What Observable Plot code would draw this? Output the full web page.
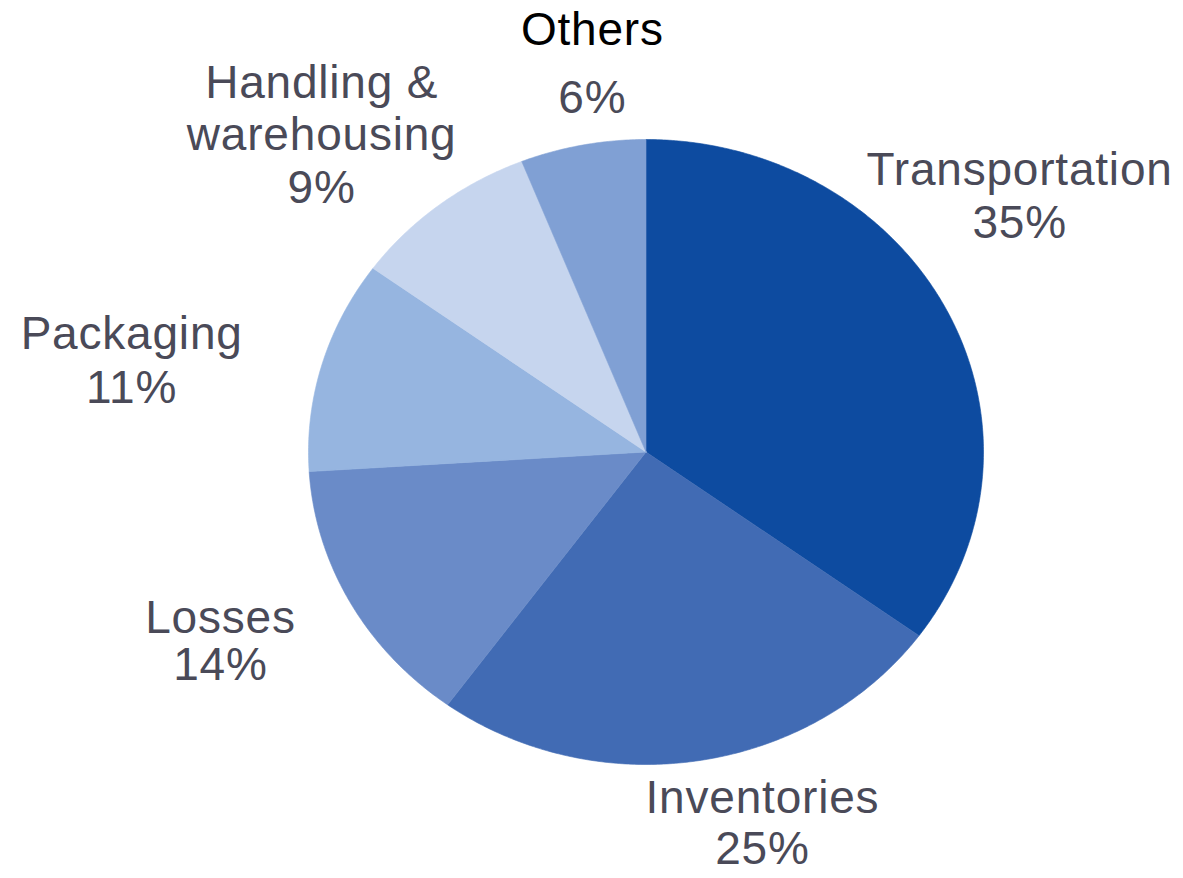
<!DOCTYPE html>
<html>
<head>
<meta charset="utf-8">
<script src="https://cdn.jsdelivr.net/npm/d3@7"></script>
<script src="https://cdn.jsdelivr.net/npm/@observablehq/plot@0.6"></script>
<style>
  html, body { margin: 0; padding: 0; background: #fff; }
  #chart svg text { letter-spacing: 0.8px; }
</style>
</head>
<body>
<div id="chart"></div>
<script>
// ---- Data ----
const categories = ["Transportation", "Inventories", "Losses", "Packaging", "Handling &\nwarehousing", "Others"];
const values = [35, 25, 14, 11, 9, 6];
const percentLabels = ["35%", "25%", "14%", "11%", "9%", "6%"];

// ---- Styles ----
const sliceColors = ["#0d4ba0", "#416bb4", "#6a8bc8", "#96b5e0", "#c6d5ee", "#80a0d4"];
const nameColors = ["#4a4a58", "#4a4a58", "#4a4a58", "#4a4a58", "#4a4a58", "#000000"];

// ---- Label layout (data units on the unit pie, x right, y up) ----
const labelX = [1.107, 0.345, -1.261, -1.524, -0.961, -0.159];
const nameY = [0.853, -1.154, -0.578, 0.331, 0.965, 1.301];
const pctY = [0.686, -1.317, -0.731, 0.158, 0.798, 1.086];

// ---- Build slice polygons from the values ----
const total = d3.sum(values);
const ends = d3.cumsum(values);
const slicePoints = [];
categories.forEach((c, i) => {
  const a0 = ((ends[i] - values[i]) / total) * 2 * Math.PI;
  const a1 = (ends[i] / total) * 2 * Math.PI;
  slicePoints.push({cat: c, x: 0, y: 0, color: sliceColors[i]});
  const n = Math.max(2, Math.ceil((a1 - a0) / (Math.PI / 360)));
  for (let k = 0; k <= n; k++) {
    const a = a0 + (a1 - a0) * k / n;
    slicePoints.push({cat: c, x: Math.sin(a), y: Math.cos(a), color: sliceColors[i]});
  }
  slicePoints.push({cat: c, x: 0, y: 0, color: sliceColors[i]});
});

const labels = categories.map((c, i) => ({
  name: c, pct: percentLabels[i], x: labelX[i], ny: nameY[i], py: pctY[i], ncolor: nameColors[i]
}));

const chart = Plot.plot({
  width: 1183,
  height: 878,
  marginLeft: 308,
  marginRight: 200,
  marginTop: 139,
  marginBottom: 114,
  x: {domain: [-1, 1], axis: null},
  y: {domain: [-1, 1], axis: null},
  color: {type: "identity"},
  style: {fontFamily: "'Liberation Sans', Arial, sans-serif", background: "#fff"},
  marks: [
    Plot.line(slicePoints, {x: "x", y: "y", z: "cat", fill: "color", stroke: "color", strokeWidth: 0.6}),
    Plot.text(labels, {
      x: "x", y: "ny", text: "name", fill: "ncolor",
      fontSize: 46, lineAnchor: "bottom", lineHeight: 1.13, textAnchor: "middle"
    }),
    Plot.text(labels, {
      x: "x", y: "py", text: "pct", fill: "#4a4a58",
      fontSize: 46, lineAnchor: "bottom", textAnchor: "middle"
    })
  ]
});
document.getElementById("chart").appendChild(chart);
</script>
</body>
</html>
